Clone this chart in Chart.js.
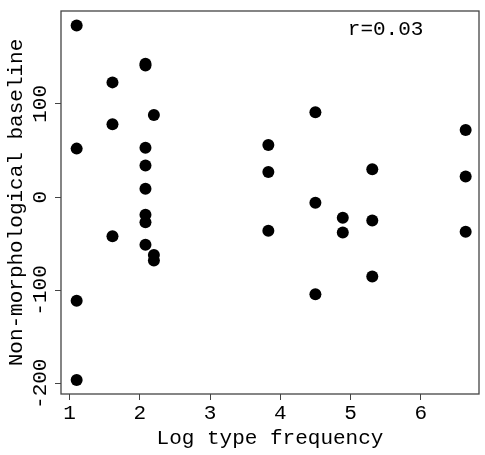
<!DOCTYPE html>
<html>
<head>
<meta charset="utf-8">
<script src="https://cdn.jsdelivr.net/npm/chart.js@4.4.1/dist/chart.umd.min.js"></script>
<style>
  html, body { margin: 0; padding: 0; background: #fff; }
  canvas { display: block; }
</style>
</head>
<body>
<canvas id="scatter" width="485" height="455"></canvas>
<script>
// values
const xValues = [1.10, 1.10, 1.10, 1.10,
  1.61, 1.61, 1.61,
  2.08, 2.08, 2.08, 2.08, 2.08, 2.08, 2.08, 2.08,
  2.20, 2.20, 2.20,
  3.83, 3.83, 3.83,
  4.50, 4.50, 4.50,
  4.89, 4.89,
  5.31, 5.31, 5.31,
  6.64, 6.64, 6.64];
const yValues = [184, 52, -111, -196,
  123, 78, -42,
  143, 141, 53, 34, 9, -19, -27, -51,
  88, -62, -68,
  56, 27, -36,
  91, -6, -104,
  -22, -38,
  30, -25, -85,
  72, 22, -37];
const xTicks = [1, 2, 3, 4, 5, 6];
const yTicks = [-200, -100, 0, 100];
const rLabel = { x: 5.5, y: 180, text: "r=0.03" };

const FONT = "'Liberation Mono', 'Courier New', monospace";
const INK = "#000";
const FRAME = "#444";

// R-style extras: box around the plot, vertical y tick labels, r value
const rStyle = {
  id: "rStyle",
  afterDraw(chart) {
    const { ctx, chartArea: a, scales } = chart;
    ctx.save();
    ctx.strokeStyle = FRAME;
    ctx.lineWidth = 1.3;
    ctx.strokeRect(a.left, a.top, a.right - a.left, a.bottom - a.top);

    ctx.fillStyle = INK;
    ctx.font = "21px " + FONT;
    ctx.textAlign = "center";
    ctx.textBaseline = "alphabetic";
    yTicks.forEach((v) => {
      ctx.save();
      ctx.translate(a.left - 15, scales.y.getPixelForValue(v));
      ctx.rotate(-Math.PI / 2);
      ctx.fillText(String(v), 0, 0);
      ctx.restore();
    });

    ctx.textBaseline = "middle";
    ctx.fillText(rLabel.text, scales.x.getPixelForValue(rLabel.x), scales.y.getPixelForValue(rLabel.y));
    ctx.restore();
  },
};

new Chart(document.getElementById("scatter"), {
  type: "scatter",
  data: {
    datasets: [
      {
        data: xValues.map((x, i) => ({ x: x, y: yValues[i] })),
        backgroundColor: "#000",
        borderWidth: 0,
        pointRadius: 6,
        pointHoverRadius: 6,
      },
    ],
  },
  options: {
    responsive: false,
    animation: false,
    devicePixelRatio: 1,
    layout: { padding: { top: 11, right: 3, left: 0, bottom: 0 } },
    plugins: { legend: { display: false }, tooltip: { enabled: false } },
    scales: {
      x: {
        type: "linear",
        min: 0.877,
        max: 6.83,
        afterBuildTicks: (s) => { s.ticks = xTicks.map((v) => ({ value: v })); },
        afterFit: (s) => { s.height = 61; },
        border: { display: false },
        grid: { drawOnChartArea: false, drawTicks: true, tickLength: 6, color: FRAME },
        ticks: { color: INK, font: { family: FONT, size: 21 }, padding: 1, maxRotation: 0 },
        title: { display: true, text: "Log type frequency", color: INK, font: { family: FONT, size: 21 }, padding: { top: 0, bottom: 4 } },
      },
      y: {
        type: "linear",
        min: -211,
        max: 199.5,
        afterBuildTicks: (s) => { s.ticks = yTicks.map((v) => ({ value: v })); },
        afterFit: (s) => { s.width = 61; },
        border: { display: false },
        grid: { drawOnChartArea: false, drawTicks: true, tickLength: 6, color: FRAME },
        ticks: { display: false },
        title: { display: true, text: "Non-morphological baseline", color: INK, font: { family: FONT, size: 21 }, padding: { top: 4, bottom: 0 } },
      },
    },
  },
  plugins: [rStyle],
});
</script>
</body>
</html>
